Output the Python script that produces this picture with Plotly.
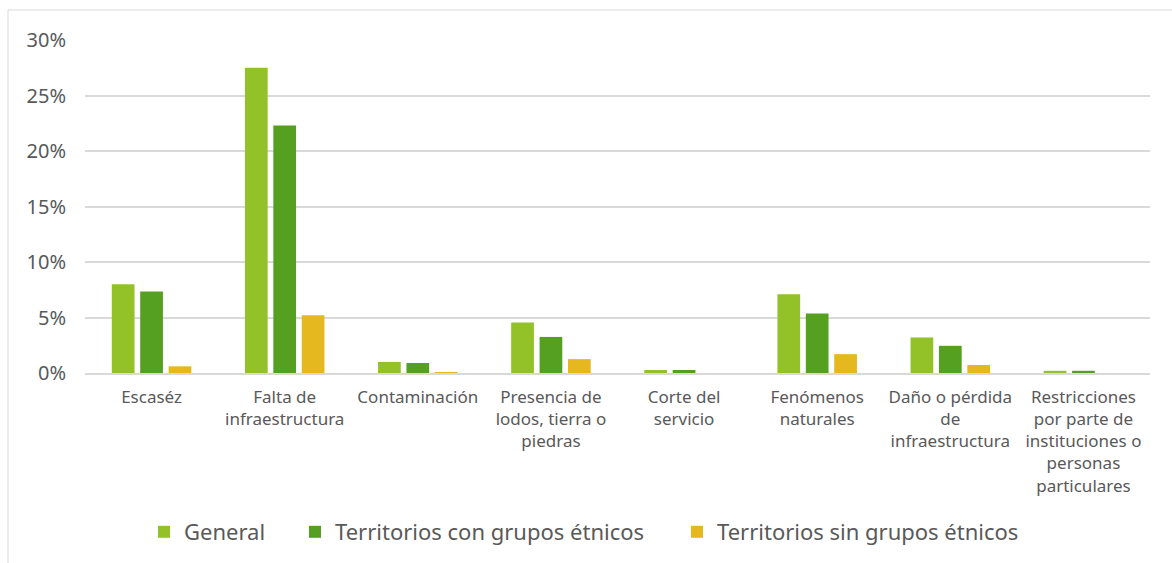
import plotly.graph_objects as go

categories = ["Escaséz", "Falta de<br>infraestructura", "Contaminación",
              "Presencia de<br>lodos, tierra o<br>piedras", "Corte del<br>servicio",
              "Fenómenos<br>naturales", "Daño o pérdida<br>de<br>infraestructura",
              "Restricciones<br>por parte de<br>instituciones o<br>personas<br>particulares"]
general = [8.0, 27.5, 1.0, 4.55, 0.27, 7.1, 3.2, 0.2]
con_etnicos = [7.35, 22.3, 0.9, 3.25, 0.27, 5.35, 2.45, 0.2]
sin_etnicos = [0.6, 5.2, 0.05, 1.25, 0.0, 1.7, 0.72, 0.0]
series_names = ["General", "Territorios con grupos étnicos", "Territorios sin grupos étnicos"]
colors = ["#92C227", "#55A021", "#E6B820"]
ticks = [0, 5, 10, 15, 20, 25, 30]
tick_labels = ["0%", "5%", "10%", "15%", "20%", "25%", "30%"]

W, H = 1172, 563
L, R, T, B = 85, 22, 40, 190
font = "Noto Sans"
pw, ph = W - L - R, H - T - B
legend_text_x = [184, 335, 717]
legend_keys = ["legend", "legend2", "legend3"]

fig = go.Figure()
for name, vals, c, lk in zip(series_names, [general, con_etnicos, sin_etnicos], colors, legend_keys):
    fig.add_trace(go.Bar(x=categories, y=vals, name=name, marker_color=c,
                         marker_line_width=0, legend=lk))

fig.add_shape(type="rect", xref="paper", yref="paper",
              x0=(8 - L) / pw, x1=(W + 5 - L) / pw,
              y0=-(H + 5 - (H - B)) / ph, y1=((H - B) - 10) / ph,
              line=dict(color="#D9D9D9", width=1), layer="below")

leg_y = ((H - B) - 532) / ph
legends = {}
for lk, tx in zip(legend_keys, legend_text_x):
    legends[lk] = dict(orientation="h", x=(tx - 40 - L) / pw, xanchor="left",
                       y=leg_y, yanchor="middle", bgcolor="rgba(0,0,0,0)",
                       font=dict(size=22, color="#595959", family=font),
                       itemwidth=30)

fig.update_layout(
    width=W, height=H,
    margin=dict(l=L, r=R, t=T, b=B, autoexpand=False),
    paper_bgcolor="white", plot_bgcolor="white",
    barmode="group", bargap=0.36, bargroupgap=0.2,
    font=dict(family=font, color="#595959"),
    showlegend=True,
    **legends,
)
fig.update_yaxes(range=[0, 30], tickvals=ticks, ticktext=tick_labels,
                 showgrid=True, gridcolor="#D9D9D9", gridwidth=1.5,
                 zeroline=False, showline=False, automargin=False,
                 tickfont=dict(size=20, color="#595959"), ticks="",
                 ticklabelstandoff=18)
fig.update_xaxes(showline=True, linecolor="#D9D9D9", linewidth=1.5,
                 tickfont=dict(size=17, color="#595959"), tickangle=0,
                 ticks="", ticklabelstandoff=8, automargin=False)

fig.write_html("out.html", config={"displayModeBar": False},
               post_script="document.body.style.margin='0';")
